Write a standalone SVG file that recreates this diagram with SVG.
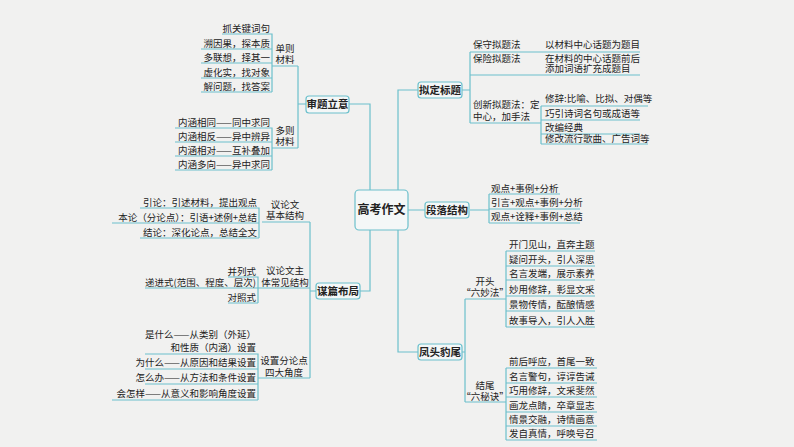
<svg xmlns="http://www.w3.org/2000/svg" width="794" height="447" viewBox="0 0 794 447">
<style>
text{font-family:"Noto Sans CJK SC","Liberation Serif",serif;font-size:9.5px;fill:#222}
.b{font-weight:bold;font-size:10.5px}
.c{font-size:12px;font-weight:bold}
.l{fill:none;stroke:#6cc0cc;stroke-width:1.2}
.box{fill:#f4f7f7;stroke:#6cc0cc;stroke-width:1.2}
.r{text-anchor:end}.m{text-anchor:middle}
</style>
<rect width="794" height="447" fill="#f1f1f0"/>
<g id="connectors" class="l">
<path d="M349 104H370V190M360 291H370V230M398 190V90H418M398 230V352H418M408 210H425"/>
<path d="M306 104H298V66M298 104V148M272 66H298M272 148H298"/>
<path d="M222 34H272V92M201 49H272M201 63H272M201 78H272M201 92H272"/>
<path d="M175 128H272V170M175 142H272M175 156H272M175 170H272"/>
<path d="M316 291H310V222M310 291V378M262 222H310M258 288H310M258 378H310"/>
<path d="M140 208H259V238M112 223H259M140 238H259"/>
<path d="M228 277H258V303M145 288H258M228 303H258"/>
<path d="M145 354H258V400M145 369H258M145 384H258M112 400H258"/>
<path d="M462 90H470V52M470 90V123M470 52H640M470 75H640M470 123H541M541 106V144M541 106H648M541 120H640M541 134H640M541 144H648"/>
<path d="M470 210H489V194M489 223V194M489 194H560M489 209H580M489 223H580"/>
<path d="M462 352H465V299M465 352V402M465 299H506M465 402H506"/>
<path d="M506 251V327M506 251H595M506 266H595M506 280H595M506 296H595M506 311H595M506 327H595"/>
<path d="M506 368V440M506 368H597M506 383H597M506 397H597M506 412H597M506 426H597M506 440H597"/>
</g>
<g id="center"><rect class="box" x="355" y="190" width="53" height="40" rx="4"/><text class="c m" x="381.5" y="214">高考作文</text></g>
<g id="n1"><rect class="box" x="306" y="96" width="43" height="17" rx="3"/><text class="b m" x="327.5" y="108">审题立意</text></g>
<g id="n2"><rect class="box" x="316" y="283" width="44" height="16" rx="3"/><text class="b m" x="338" y="295">谋篇布局</text></g>
<g id="n3"><rect class="box" x="418" y="82" width="44" height="16" rx="3"/><text class="b m" x="440" y="94">拟定标题</text></g>
<g id="n4"><rect class="box" x="425" y="202" width="44" height="16" rx="3"/><text class="b m" x="447" y="214">段落结构</text></g>
<g id="n5"><rect class="box" x="418" y="344" width="44" height="16" rx="3"/><text class="b m" x="440" y="356">凤头豹尾</text></g>
<g id="t1">
<text x="285" y="52" class="m">单则</text><text x="285" y="63" class="m">材料</text>
<text class="r" x="270" y="32">抓关键词句</text><text class="r" x="270" y="47">溯因果，探本质</text><text class="r" x="270" y="61">多联想，择其一</text><text class="r" x="270" y="76">虚化实，找对象</text><text class="r" x="270" y="90">解问题，找答案</text>
<text x="285" y="134" class="m">多则</text><text x="285" y="145" class="m">材料</text>
<text class="r" x="270" y="126">内涵相同——同中求同</text><text class="r" x="270" y="140">内涵相反——异中辨异</text><text class="r" x="270" y="154">内涵相对——互补叠加</text><text class="r" x="270" y="168">内涵多向——异中求同</text>
</g>
<g id="t2">
<text x="285" y="208" class="m">议论文</text><text x="285" y="219" class="m">基本结构</text>
<text class="r" x="257" y="206">引论：引述材料，提出观点</text><text class="r" x="257" y="221">本论（分论点）：引语+述例+总结</text><text class="r" x="257" y="236">结论：深化论点，总结全文</text>
<text x="285" y="274" class="m">议论文主</text><text x="285" y="286" class="m">体常见结构</text>
<text class="r" x="256" y="275">并列式</text><text class="r" x="256" y="286">递进式(范围、程度、层次)</text><text class="r" x="256" y="301">对照式</text>
<text x="284" y="364" class="m">设置分论点</text><text x="284" y="376" class="m">四大角度</text>
<text class="r" x="256" y="338">是什么——从类别（外延）</text><text class="r" x="256" y="351">和性质（内涵）设置</text><text class="r" x="256" y="366">为什么——从原因和结果设置</text><text class="r" x="256" y="381">怎么办——从方法和条件设置</text><text class="r" x="256" y="397">会怎样——从意义和影响角度设置</text>
</g>
<g id="t3">
<text x="473" y="48">保守拟题法</text><text x="545" y="48">以材料中心话题为题目</text>
<text x="473" y="62">保险拟题法</text><text x="545" y="62">在材料的中心话题前后</text><text x="545" y="72">添加词语扩充成题目</text>
<text x="473" y="108">创新拟题法：定</text><text x="473" y="120">中心，加手法</text>
<text x="545" y="102">修辞:比喻、比拟、对偶等</text><text x="545" y="117">巧引诗词名句或成语等</text><text x="545" y="131">改编经典</text><text x="545" y="142">修改流行歌曲、广告词等</text>
<text x="491" y="192">观点+事例+分析</text><text x="491" y="206">引言+观点+事例+分析</text><text x="491" y="220">观点+诠释+事例+总结</text>
</g>
<g id="t5">
<text x="485" y="285" class="m">开头</text><text x="485" y="296" class="m">“六妙法”</text>
<text x="509" y="248">开门见山，直奔主题</text><text x="509" y="263">疑问开头，引人深思</text><text x="509" y="277">名言发端，展示素养</text><text x="509" y="293">妙用修辞，彰显文采</text><text x="509" y="308">景物传情，酝酿情感</text><text x="509" y="324">故事导入，引人入胜</text>
<text x="485" y="389" class="m">结尾</text><text x="485" y="400" class="m">“六秘诀”</text>
<text x="509" y="365">前后呼应，首尾一致</text><text x="509" y="380">名言警句，谆谆告诫</text><text x="509" y="394">巧用修辞，文采斐然</text><text x="509" y="409">画龙点睛，卒章显志</text><text x="509" y="423">情景交融，诗情画意</text><text x="509" y="437">发自真情，呼唤号召</text>
</g>
</svg>
